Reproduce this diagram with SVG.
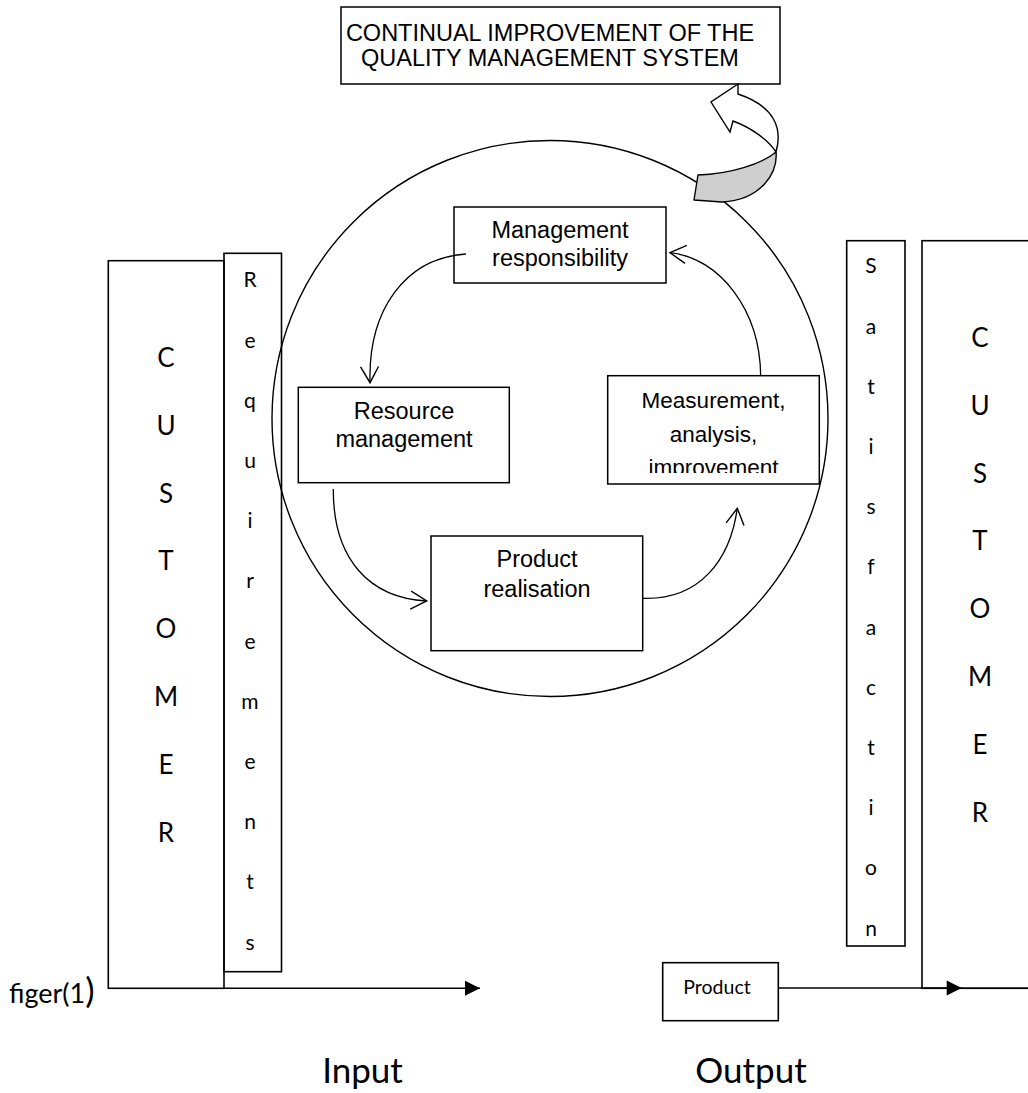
<svg xmlns="http://www.w3.org/2000/svg" width="1028" height="1093" viewBox="0 0 1028 1093">
<style>
.box{fill:#fff;stroke:#000;stroke-width:1.5}
.frame{fill:none;stroke:#000;stroke-width:1.6}
.ar{font-family:"Liberation Sans",Arial,sans-serif;font-size:23.5px;fill:#000;text-anchor:middle}
.cal{font-family:Lato,"Liberation Sans",sans-serif;fill:#000;text-anchor:middle}
.big{font-size:26px}
.sm{font-size:21px}
.conn{fill:none;stroke:#000;stroke-width:1.3}
.flow{fill:none;stroke:#000;stroke-width:1.6}
</style>
<defs>
<marker id="open" viewBox="-18 -11 20 22" markerWidth="20" markerHeight="22" refX="0" refY="0" orient="auto" markerUnits="userSpaceOnUse">
<path d="M-16,-9 L0,0 L-16,9" fill="none" stroke="#000" stroke-width="1.4"/>
</marker>
<marker id="solid" viewBox="-16 -9 17 18" markerWidth="17" markerHeight="18" refX="0" refY="0" orient="auto" markerUnits="userSpaceOnUse">
<path d="M-15,-7.5 L0,0 L-15,7.5 Z" fill="#000"/>
</marker>
<clipPath id="mclip"><rect x="608" y="376" width="211" height="97"/></clipPath>
</defs>

<g id="title">
<rect class="box" x="341" y="7" width="439" height="77"/>
<text class="ar" x="550" y="40.7">CONTINUAL IMPROVEMENT OF THE</text>
<text class="ar" x="550" y="65.7">QUALITY MANAGEMENT SYSTEM</text>
</g>

<g id="cycle">
<circle cx="550" cy="418.5" r="278" fill="none" stroke="#000" stroke-width="1.4"/>
</g>

<g id="improvement-arrow">
<path d="M698,175 C730,174 762,164 776,152 C778,172 762,200 722,202 L694,200 Z" fill="#cfcfcf" stroke="#000" stroke-width="1.4" stroke-linejoin="round"/>
<path d="M776,152 C783,128 774,106 738,94 L738,84 L711,102 L730,132 L733,121 C752,128 768,140 776,152 Z" fill="#fff" stroke="#000" stroke-width="1.4" stroke-linejoin="miter"/>
</g>

<g id="customer-left">
<rect class="frame" x="108.3" y="260.7" width="115.7" height="727.6"/>
<text class="cal big">
<tspan x="166" y="366.7">C</tspan><tspan x="166" y="434.6">U</tspan><tspan x="166" y="502.5">S</tspan><tspan x="166" y="570.4">T</tspan><tspan x="166" y="638.3">O</tspan><tspan x="166" y="706.2">M</tspan><tspan x="166" y="774.1">E</tspan><tspan x="166" y="842">R</tspan>
</text>
</g>

<g id="requirements">
<rect class="frame" x="224" y="253.3" width="57.5" height="718.4"/>
<text class="cal sm">
<tspan x="250" y="287.3">R</tspan><tspan x="250" y="347.5">e</tspan><tspan x="250" y="407.7">q</tspan><tspan x="250" y="467.9">u</tspan><tspan x="250" y="528.1">i</tspan><tspan x="250" y="588.3">r</tspan><tspan x="250" y="648.5">e</tspan><tspan x="250" y="708.7">m</tspan><tspan x="250" y="768.9">e</tspan><tspan x="250" y="829.1">n</tspan><tspan x="250" y="889.3">t</tspan><tspan x="250" y="949.5">s</tspan>
</text>
</g>

<g id="satisfaction">
<rect class="frame" x="846.7" y="240.7" width="58.3" height="705.3"/>
<text class="cal sm">
<tspan x="871" y="273.3">S</tspan><tspan x="871" y="333.5">a</tspan><tspan x="871" y="393.7">t</tspan><tspan x="871" y="453.9">i</tspan><tspan x="871" y="514.1">s</tspan><tspan x="871" y="574.3">f</tspan><tspan x="871" y="634.5">a</tspan><tspan x="871" y="694.7">c</tspan><tspan x="871" y="754.9">t</tspan><tspan x="871" y="815.1">i</tspan><tspan x="871" y="875.3">o</tspan><tspan x="871" y="935.5">n</tspan>
</text>
</g>

<g id="customer-right">
<rect class="frame" x="922" y="240.7" width="120" height="747.6"/>
<text class="cal big">
<tspan x="980" y="346.7">C</tspan><tspan x="980" y="414.6">U</tspan><tspan x="980" y="482.5">S</tspan><tspan x="980" y="550.4">T</tspan><tspan x="980" y="618.3">O</tspan><tspan x="980" y="686.2">M</tspan><tspan x="980" y="754.1">E</tspan><tspan x="980" y="822">R</tspan>
</text>
</g>

<g id="management">
<rect class="box" x="454" y="207" width="212" height="76"/>
<text class="ar" x="560" y="238.3">Management</text>
<text class="ar" x="560" y="265.7">responsibility</text>
</g>

<g id="resource">
<rect class="box" x="298.3" y="387.3" width="211" height="95.4"/>
<text class="ar" x="404" y="419.3">Resource</text>
<text class="ar" x="404" y="447.3">management</text>
</g>

<g id="product-realisation">
<rect class="box" x="431" y="536" width="211.7" height="114.7"/>
<text class="ar" x="537" y="567.3">Product</text>
<text class="ar" x="537" y="596.7">realisation</text>
</g>

<g id="measurement">
<rect class="box" x="607.7" y="375.7" width="211.6" height="108.3"/>
<g clip-path="url(#mclip)">
<text class="ar" style="font-size:22.5px" x="713.5" y="408.3">Measurement,</text>
<text class="ar" style="font-size:22.5px" x="713.5" y="441.7">analysis,</text>
<text class="ar" style="font-size:22.5px" x="713.5" y="474.5">improvement</text>
</g>
</g>

<g id="product">
<rect class="frame" x="662.7" y="962.7" width="115.6" height="58"/>
<text class="cal" style="font-size:19.5px" x="717" y="994">Product</text>
</g>

<g id="connectors">
<path class="conn" d="M466,254 C405,258 368,310 370,382.7" marker-end="url(#open)"/>
<path class="conn" d="M333.3,489 C333,560 370,598 426.7,601" marker-end="url(#open)"/>
<path class="conn" d="M643,598.3 C700,600 730,560 737.3,508.3" marker-end="url(#open)"/>
<path class="conn" d="M760.7,376 C760,310 720,258 670,252.7" marker-end="url(#open)"/>
<path class="flow" d="M224,988.3 L480,988.3" marker-end="url(#solid)"/>
<path class="flow" d="M778.3,988 L961.7,988" marker-end="url(#solid)"/>
<path class="flow" d="M961.7,988.3 L1028,988.3"/>
</g>

<g id="labels">
<text class="cal" style="font-size:27px;text-anchor:start" x="9" y="1002.7">figer(1<tspan style="font-size:35px">)</tspan></text>
<text class="cal" style="font-size:35px" x="362.5" y="1083.3">Input</text>
<text class="cal" style="font-size:35px" x="751" y="1083.3">Output</text>
</g>
</svg>
